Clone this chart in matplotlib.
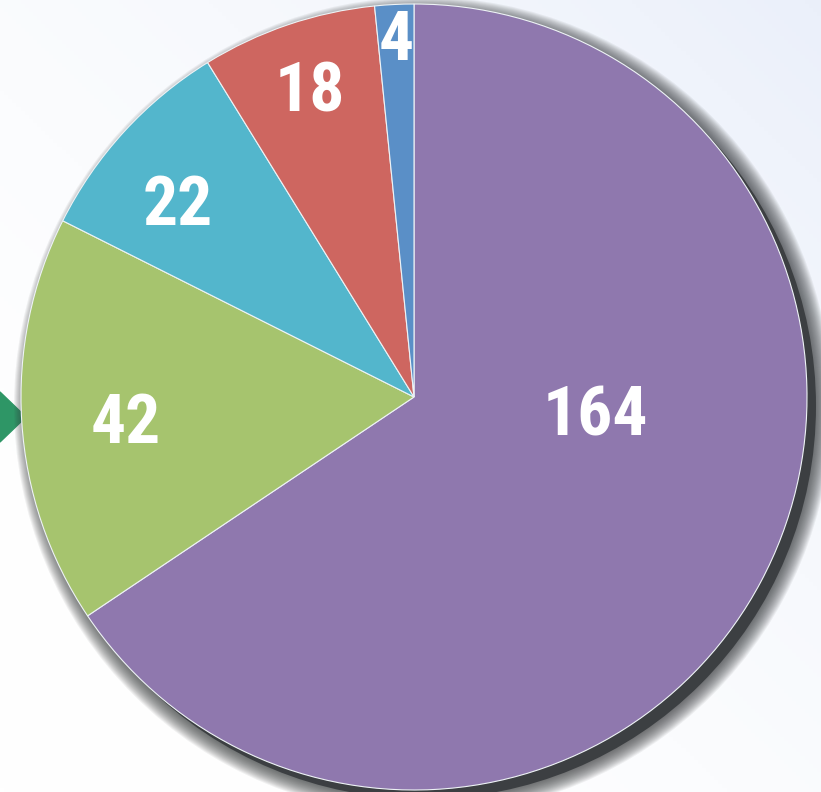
import matplotlib
matplotlib.use("Agg")
import matplotlib.pyplot as plt
from matplotlib.patches import Circle, Polygon
import numpy as np

# Data
categories = ["A", "B", "C", "D", "E"]
values = [164, 42, 22, 18, 4]
colors = ["#8F78AE", "#A6C46E", "#53B6CC", "#CE6660", "#5A8FC7"]
label_texts = [str(v) for v in values]

# Layout (pixel-space coordinates, y up; label positions are text baselines)
W, H = 821, 792
center = (414, 395)
radius = 393
label_pos = [(595, 357), (126, 349), (178, 567), (310, 680), (396, 732)]

fig = plt.figure(figsize=(W / 100, H / 100), dpi=100)
ax = fig.add_axes([0, 0, 1, 1])
ax.set_xlim(0, W)
ax.set_ylim(0, H)
ax.axis("off")

# background gradient (white to light blue towards bottom-right)
gx = np.linspace(0, 1, 200)
gy = np.linspace(0, 1, 200)
GX, GY = np.meshgrid(gx, gy)
t = np.clip((GX + (1 - GY)) / 2, 0, 1) ** 2
base = np.array([1.0, 1.0, 1.0])
tint = np.array([0.92, 0.94, 0.98])
img = base[None, None, :] * (1 - t[..., None]) + tint[None, None, :] * t[..., None]
ax.imshow(img, extent=[0, W, 0, H], origin="upper", zorder=0, aspect="auto")

# shadow
sx, sy = center[0] + 9, center[1] - 9
for k in range(16, 0, -1):
    ax.add_patch(Circle((sx, sy), radius + k, color="#3c3f42", alpha=0.07, lw=0, zorder=2))
ax.add_patch(Circle((sx, sy), radius, color="#3c3f42", lw=0, zorder=2))

# pie
wedges, _ = ax.pie(values, colors=colors, startangle=90, counterclock=False,
                   center=center, radius=radius, frame=True,
                   wedgeprops=dict(edgecolor="#eef3f6", linewidth=0.8))
for w in wedges:
    w.set_zorder(3)
ax.set_xlim(0, W)
ax.set_ylim(0, H)
ax.axis("off")

for (x, y), s in zip(label_pos, label_texts):
    ax.text(x, y, s, color="white", fontsize=50, fontweight="bold",
            family=["Roboto Condensed", "DejaVu Sans"],
            ha="center", va="baseline", zorder=5)

# green arrow marker on the left
ax.add_patch(Polygon([(-25, 375), (0, 400), (26, 375), (0, 350)], closed=True,
                     color="#2E9666", zorder=1))

fig.savefig("out.png", dpi=100)
